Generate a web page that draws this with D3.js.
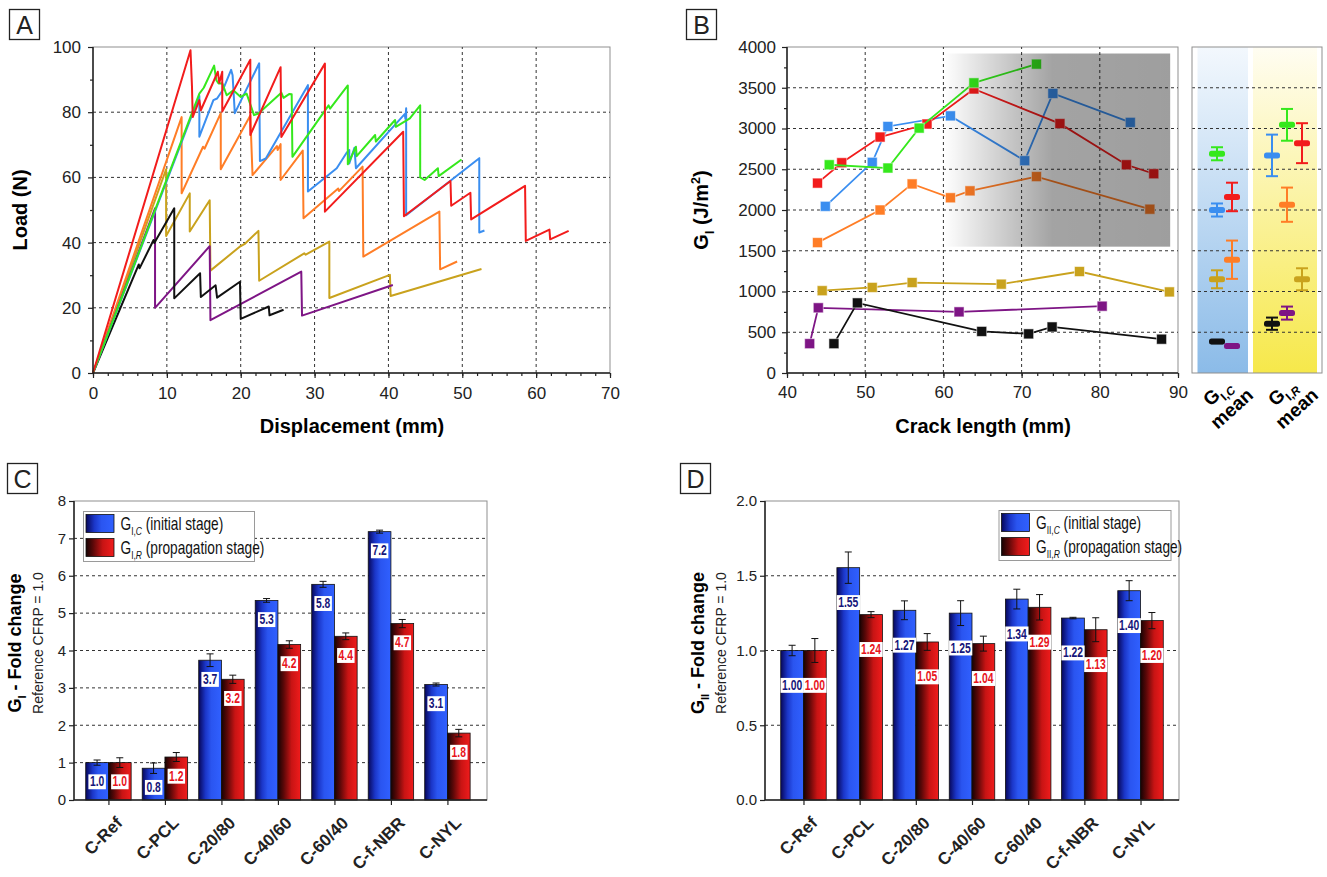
<!DOCTYPE html>
<html>
<head>
<meta charset="utf-8">
<script src="https://cdn.jsdelivr.net/npm/d3@7"></script>
<style>
  body { margin: 0; background: #fff; }
  svg { display: block; }
</style>
</head>
<body>
<svg id="fig" width="1327" height="877"></svg>
<script>
// ---- panel A: load vs displacement, [mm, N] ----
var loadRed = [[0,0],[13.2,99],[13.4,88],[13.5,78.5],[14.4,83.7],[14.6,80.6],[16.9,92.4],[17.1,89],[17.5,92.4],[17.5,80.2],
  [21.3,96.1],[21.3,73],[25.4,93.8],[25.5,72.4],[31.4,94.9],[31.4,49.5],[42,74],[42.1,48.1],[48.4,58.9],[48.5,51.3],
  [51.1,55.3],[51.2,47.1],[58.5,57.4],[58.6,40.5],[61.8,44],[61.9,41],[64.4,43.6]];
var loadGreen = [[0,0],[14.4,85.7],[15,87.5],[16.4,94.3],[16.7,89.8],[17,88.8],[17.5,88.9],[18.1,85.2],[19,86.7],[20,84.7],
  [20.8,85.7],[21.8,79.1],[22.4,79.6],[25.5,86],[25.8,84.4],[26.6,85.6],[26.9,85.5],[27,66.3],[31.9,82.1],[32.1,81.1],
  [34.5,88.2],[34.5,64],[35.6,69.4],[35.7,66.5],[38.2,73],[38.3,71],[40.9,77.6],[41,75.5],[42.9,78.1],[44.3,82.1],
  [44.3,60],[44.9,59.2],[46.7,62.8],[46.8,60.4],[49.9,65.5]];
var loadBlue = [[0,0],[14.4,85],[14.4,72.5],[16.3,83.7],[16.8,84.2],[17.6,86.9],[18.7,93],[18.9,91.3],[19.2,79.7],
  [22.5,95],[22.6,65],[23.4,65.8],[29.1,88.3],[29.1,55.7],[33,62.8],[34.3,67.4],[34.7,68.4],[34.7,64.3],[35.4,69.1],
  [35.6,62.8],[40.6,75.4],[42.2,79.4],[42.3,78],[42.4,81.2],[42.4,48.4],[52.3,65.9],[52.3,43.1],[53,43.7]];
var loadOrange = [[0,0],[12,78.5],[12,55.1],[14.9,69.4],[15.1,68.8],[17.3,79.7],[17.3,62.5],[21.3,79],[21.6,60.7],
  [24.9,69.6],[25,68.4],[25.4,70.2],[25.4,59.2],[28.4,68.2],[28.5,47.5],[33.2,56.6],[33.3,55.8],[36.5,63.3],[36.6,35.7],
  [46.9,49.5],[47,31.8],[49.3,34.2]];
var loadGold = [[0,0],[9.9,62.5],[9.9,42],[13.1,55.1],[13.1,43.4],[15.8,53],[15.9,31.4],[19.9,38.8],[20.5,39.5],[22.4,43.6],
  [22.5,28.3],[28.6,36.7],[28.8,36.3],[32,40.3],[32,23],[40.2,30.1],[40.3,23.6],[52.6,31.9]];
var loadPurple = [[0,0],[8.4,50.5],[8.4,20],[15.8,38.9],[15.9,16.2],[28.2,31.1],[28.3,17.6],[40.6,27]];
var loadBlack = [[0,0],[6.2,33.3],[6.3,32.1],[8.2,40.8],[8.3,39.9],[11,50.5],[11,22.9],[14.5,30.6],[14.6,23.3],
  [16.6,26.9],[16.8,23.1],[19.9,28],[20,16.6],[23.8,20.4],[23.9,17.7],[25.8,19.4]];

// ---- panel B: G_I vs crack length, [mm, J/m2] ----
var giRed = [[43.9,2330],[47,2580],[51.9,2895],[57.9,3055],[63.9,3485],[74.9,3060],[83.4,2555],[86.9,2445]];
var giGreen = [[45.4,2555],[52.9,2515],[56.9,3005],[63.9,3560],[71.9,3790]];
var giBlue = [[44.9,2045],[50.9,2585],[52.9,3025],[60.9,3155],[70.4,2605],[74,3430],[83.9,3075]];
var giOrange = [[43.9,1600],[51.9,2000],[56,2320],[60.9,2150],[63.4,2235],[71.9,2410],[86.4,2010]];
var giGold = [[44.5,1010],[50.9,1050],[56,1110],[67.4,1090],[77.4,1245],[88.9,995]];
var giPurple = [[42.9,360],[44,800],[62,750],[80.3,820]];
var giBlack = [[46,360],[49,860],[64.9,510],[70.9,480],[73.9,565],[87.9,415]];
var shadeBox = [60, 89, 1550, 3920];   // crack length from/to, G_I from/to

// side panel of means: [slot, mean, error]
var gicMeans = { green: [5,2690,80], blue: [5,2000,80], red: [8,2160,175], gold: [5,1150,110],
                 orange: [8,1390,235], black: [5,385,20], purple: [8,330,20] };
var girMeans = { blue: [16,2670,255], green: [19,3045,195], red: [22,2820,245], orange: [19,2065,210],
                 gold: [22,1150,135], black: [16,605,75], purple: [19,735,80] };

// ---- panels C and D: fold change ----
var samples = ["C-Ref", "C-PCL", "C-20/80", "C-40/60", "C-60/40", "C-f-NBR", "C-NYL"];
var g1cFold = [1.0, 0.85, 3.74, 5.34, 5.77, 7.18, 3.09];
var g1cErr  = [0.07, 0.14, 0.17, 0.05, 0.08, 0.04, 0.04];
var g1cText = ["1.0", "0.8", "3.7", "5.3", "5.8", "7.2", "3.1"];
var g1rFold = [1.0, 1.15, 3.23, 4.16, 4.38, 4.72, 1.79];
var g1rErr  = [0.13, 0.12, 0.11, 0.10, 0.09, 0.11, 0.10];
var g1rText = ["1.0", "1.2", "3.2", "4.2", "4.4", "4.7", "1.8"];
var g2cFold = [1.0, 1.554, 1.269, 1.25, 1.344, 1.217, 1.40];
var g2cErr  = [0.035, 0.105, 0.063, 0.083, 0.066, 0.005, 0.067];
var g2cText = ["1.00", "1.55", "1.27", "1.25", "1.34", "1.22", "1.40"];
var g2rFold = [1.0, 1.24, 1.057, 1.046, 1.289, 1.139, 1.20];
var g2rErr  = [0.08, 0.02, 0.056, 0.05, 0.085, 0.08, 0.054];
var g2rText = ["1.00", "1.24", "1.05", "1.04", "1.29", "1.13", "1.20"];

var col = { red: "#f21c1c", green: "#35e81c", blue: "#3a8ef0", orange: "#ff7d26",
            gold: "#c9a21d", purple: "#7e1585", black: "#111111" };

var FONT = '"Liberation Sans", Arial, sans-serif';

var svg = d3.select("#fig").attr("font-family", FONT);
var defs = svg.append("defs");

function gradient(id, vertical, stops) {
  var g = defs.append("linearGradient").attr("id", id)
      .attr("x1", 0).attr("y1", 0).attr("x2", vertical ? 0 : 1).attr("y2", vertical ? 1 : 0);
  stops.forEach(function(s) {
    g.append("stop").attr("offset", s[0]).attr("stop-color", s[1])
        .attr("stop-opacity", s[2] === undefined ? 1 : s[2]);
  });
}
gradient("barBlue", false, [[0, "#07075a"], [0.3, "#1b36c8"], [0.55, "#2a55f0"], [1, "#3060ff"]]);
gradient("barRed", false, [[0, "#160303"], [0.25, "#5a0808"], [0.6, "#c81414"], [1, "#f01c1c"]]);
gradient("shade", false, [[0, "#000", 0], [0.48, "#000", 0.36], [1, "#000", 0.38]]);
gradient("colBlue", true, [[0, "#f3f8fd"], [1, "#8bbbe8"]]);
gradient("colYellow", true, [[0, "#fffdf2"], [1, "#f6e84a"]]);

function panelLabel(x, y, t) {
  svg.append("rect").attr("x", x).attr("y", y).attr("width", 30).attr("height", 30)
      .attr("fill", "#fff").attr("stroke", "#222").attr("stroke-width", 1.3);
  svg.append("text").attr("x", x + 15).attr("y", y + 24).attr("text-anchor", "middle")
      .attr("font-size", 25).attr("fill", "#222").text(t);
}

function plotFrame(x, y) {
  var xr = x.range(), yr = y.range();
  svg.append("rect").attr("x", xr[0]).attr("y", yr[1])
      .attr("width", xr[1] - xr[0]).attr("height", yr[0] - yr[1])
      .attr("fill", "none").attr("stroke", "#8f8f8f").attr("stroke-width", 1);
}

function grid(x, y, xs, ys) {
  var g = svg.append("g").attr("stroke", "#333").attr("stroke-width", 1).attr("stroke-dasharray", "3,3");
  xs.forEach(function(v) {
    g.append("line").attr("x1", x(v)).attr("x2", x(v)).attr("y1", y.range()[0]).attr("y2", y.range()[1]);
  });
  ys.forEach(function(v) {
    g.append("line").attr("x1", x.range()[0]).attr("x2", x.range()[1]).attr("y1", y(v)).attr("y2", y(v));
  });
}

function styleAxis(g, fs) {
  g.attr("font-family", FONT).attr("font-size", fs);
  g.select(".domain").remove();
  g.selectAll("line").attr("stroke", "#222").attr("stroke-width", 1.2);
  g.selectAll("text").attr("fill", "#222");
}

function axes(x, y, o) {
  var x0 = x.range()[0], y0 = y.range()[0];
  if (o.xMinor) svg.append("g").attr("transform", "translate(0," + y0 + ")")
      .call(d3.axisBottom(x).tickValues(o.xMinor).tickSize(3).tickFormat(""))
      .call(styleAxis, o.fs);
  if (o.xMajor) svg.append("g").attr("transform", "translate(0," + y0 + ")")
      .call(d3.axisBottom(x).tickValues(o.xMajor).tickSize(5).tickPadding(o.xPad).tickFormat(o.xFmt || d3.format("d")))
      .call(styleAxis, o.fs);
  if (o.yMinor) svg.append("g").attr("transform", "translate(" + x0 + ",0)")
      .call(d3.axisLeft(y).tickValues(o.yMinor).tickSize(3).tickFormat(""))
      .call(styleAxis, o.fs);
  svg.append("g").attr("transform", "translate(" + x0 + ",0)")
      .call(d3.axisLeft(y).tickValues(o.yMajor).tickSize(5).tickPadding(o.yPad).tickFormat(o.yFmt || d3.format("d")))
      .call(styleAxis, o.fs);
  svg.append("line").attr("x1", x0).attr("x2", x.range()[1]).attr("y1", y0).attr("y2", y0)
      .attr("stroke", "#222").attr("stroke-width", 1.5);
  svg.append("line").attr("x1", x0).attr("x2", x0).attr("y1", y0).attr("y2", y.range()[1])
      .attr("stroke", "#222").attr("stroke-width", 1.5);
}

// text with sub/superscript parts: [[text, "sub"|"sup"|null, italic]]
function richText(sel, parts, fs) {
  var shift = 0;
  parts.forEach(function(p) {
    var t = sel.append("tspan").text(p[0]);
    var target = p[1] === "sub" ? 0.3 * fs : p[1] === "sup" ? -0.4 * fs : 0;
    if (target !== shift) { t.attr("dy", target - shift); shift = target; }
    if (p[1]) t.attr("font-size", fs * 0.62);
    if (p[2]) t.attr("font-style", "italic");
  });
  return sel;
}

// ---------------- Panel A ----------------
panelLabel(9.5, 9.5, "A");
var xA = d3.scaleLinear().domain([0, 70]).range([93, 610]);
var yA = d3.scaleLinear().domain([0, 100]).range([373, 47]);
plotFrame(xA, yA);
grid(xA, yA, d3.range(10, 70, 10), d3.range(20, 100, 20));
var lineA = d3.line().x(function(d) { return xA(d[0]); }).y(function(d) { return yA(d[1]); });
[[loadGold, col.gold], [loadOrange, col.orange], [loadPurple, col.purple], [loadBlack, col.black],
 [loadBlue, col.blue], [loadGreen, col.green], [loadRed, col.red]].forEach(function(s) {
  svg.append("path").datum(s[0]).attr("d", lineA).attr("fill", "none")
      .attr("stroke", s[1]).attr("stroke-width", 2).attr("stroke-linejoin", "round");
});
axes(xA, yA, { fs: 17, xMajor: d3.range(0, 71, 10), xMinor: d3.range(0, 71, 2), xPad: 9,
               yMajor: d3.range(0, 101, 20), yMinor: d3.range(10, 100, 20), yPad: 7 });
svg.append("text").attr("x", 352).attr("y", 433).attr("text-anchor", "middle")
    .attr("font-size", 20).attr("font-weight", "bold").text("Displacement (mm)");
svg.append("text").attr("transform", "translate(27,210) rotate(-90)").attr("text-anchor", "middle")
    .attr("font-size", 20).attr("font-weight", "bold").text("Load (N)");

// ---------------- Panel B ----------------
panelLabel(686.5, 9.5, "B");
var xB = d3.scaleLinear().domain([40, 90]).range([787, 1178]);
var yB = d3.scaleLinear().domain([0, 4000]).range([373, 47]);
plotFrame(xB, yB);
grid(xB, yB, d3.range(50, 90, 10), d3.range(500, 4000, 500));
var lineB = d3.line().x(function(d) { return xB(d[0]); }).y(function(d) { return yB(d[1]); });
[[giGold, col.gold], [giPurple, col.purple], [giBlack, col.black], [giOrange, col.orange],
 [giBlue, col.blue], [giRed, col.red], [giGreen, col.green]].forEach(function(s) {
  svg.append("path").datum(s[0]).attr("d", lineB).attr("fill", "none")
      .attr("stroke", s[1]).attr("stroke-width", 1.8);
  svg.append("g").selectAll("rect").data(s[0]).enter().append("rect")
      .attr("x", function(d) { return xB(d[0]) - 5; })
      .attr("y", function(d) { return yB(d[1]) - 5; })
      .attr("width", 10).attr("height", 10)
      .attr("fill", s[1]).attr("stroke", "#fff").attr("stroke-opacity", 0.55).attr("stroke-width", 1);
});
svg.append("rect")
    .attr("x", xB(shadeBox[0])).attr("y", yB(shadeBox[3]))
    .attr("width", xB(shadeBox[1]) - xB(shadeBox[0])).attr("height", yB(shadeBox[2]) - yB(shadeBox[3]))
    .attr("fill", "url(#shade)");
axes(xB, yB, { fs: 17, xMajor: d3.range(40, 91, 10), xMinor: d3.range(40, 91, 2), xPad: 8,
               yMajor: d3.range(0, 4001, 500), yMinor: d3.range(250, 4000, 500), yPad: 6 });
svg.append("text").attr("x", 983).attr("y", 433).attr("text-anchor", "middle")
    .attr("font-size", 20).attr("font-weight", "bold").text("Crack length (mm)");
richText(svg.append("text").attr("transform", "translate(708,210) rotate(-90)").attr("text-anchor", "middle")
    .attr("font-size", 20).attr("font-weight", "bold"),
    [["G"], ["I", "sub"], [" (J/m"], ["2", "sup"], [")"]], 20);

// side panel of means
var xS = d3.scaleLinear().domain([0, 26]).range([1192, 1322]);
svg.append("rect").attr("x", xS(1.1)).attr("y", yB(4000)).attr("width", xS(11.2) - xS(1.1))
    .attr("height", yB(0) - yB(4000)).attr("fill", "url(#colBlue)");
svg.append("rect").attr("x", xS(12.2)).attr("y", yB(4000)).attr("width", xS(25) - xS(12.2))
    .attr("height", yB(0) - yB(4000)).attr("fill", "url(#colYellow)");
grid(xS, yB, [], d3.range(500, 4000, 500));
plotFrame(xS, yB);
[gicMeans, girMeans].forEach(function(means) {
  Object.keys(means).forEach(function(k) {
    var m = means[k], cx = xS(m[0]), g = svg.append("g").attr("stroke", col[k]).attr("stroke-width", 2);
    g.append("line").attr("x1", cx).attr("x2", cx).attr("y1", yB(m[1] - m[2])).attr("y2", yB(m[1] + m[2]));
    g.append("line").attr("x1", cx - 6).attr("x2", cx + 6).attr("y1", yB(m[1] - m[2])).attr("y2", yB(m[1] - m[2]));
    g.append("line").attr("x1", cx - 6).attr("x2", cx + 6).attr("y1", yB(m[1] + m[2])).attr("y2", yB(m[1] + m[2]));
    g.append("rect").attr("x", cx - 8).attr("y", yB(m[1]) - 3).attr("width", 16).attr("height", 6)
        .attr("rx", 2.5).attr("fill", col[k]).attr("stroke", "none");
  });
});
[["C", 1224], ["R", 1289]].forEach(function(l) {
  var g = svg.append("g").attr("transform", "translate(" + l[1] + ",400) rotate(-42)")
      .attr("font-size", 19).attr("font-weight", "bold").attr("text-anchor", "middle");
  richText(g.append("text").attr("y", -4), [["G"], ["I,", "sub"], [l[0], "sub", true]], 19);
  g.append("text").attr("y", 18).text("mean");
});

// ---------------- Panels C, D ----------------
function foldPanel(o) {
  panelLabel(o.lx, 463.5, o.letter);
  var x = d3.scaleBand().domain(samples).range(o.xr).paddingInner(o.pi).paddingOuter(o.po).align(o.align);
  var y = d3.scaleLinear().domain([0, o.max]).range([800, 501]);
  var bw = x.bandwidth() / 2;
  plotFrame(d3.scaleLinear().range(o.xr), y);
  grid(x, y, [], o.grid);

  var series = [[o.c, o.cErr, o.cText, "url(#barBlue)", "#16167a", 0],
                [o.r, o.rErr, o.rText, "url(#barRed)", "#e8141c", bw]];
  series.forEach(function(s) {
    svg.append("g").selectAll("rect").data(samples).enter().append("rect")
        .attr("x", function(d) { return x(d) + s[5]; })
        .attr("y", function(d, i) { return y(s[0][i]); })
        .attr("width", bw)
        .attr("height", function(d, i) { return y(0) - y(s[0][i]); })
        .attr("fill", s[3]).attr("stroke", "#111").attr("stroke-width", 0.8);
  });
  series.forEach(function(s) {
    samples.forEach(function(d, i) {
      var cx = x(d) + s[5] + bw / 2, v = s[0][i], e = s[1][i];
      var eb = svg.append("g").attr("stroke", "#111").attr("stroke-width", 1);
      eb.append("line").attr("x1", cx).attr("x2", cx).attr("y1", y(v - e)).attr("y2", y(v + e));
      eb.append("line").attr("x1", cx - 3.5).attr("x2", cx + 3.5).attr("y1", y(v - e)).attr("y2", y(v - e));
      eb.append("line").attr("x1", cx - 3.5).attr("x2", cx + 3.5).attr("y1", y(v + e)).attr("y2", y(v + e));

      // value tag, squeezed horizontally like a narrow face
      var lg = svg.append("g").attr("transform", "translate(" + cx + "," + y(v - o.lab) + ") scale(0.74,1)");
      var t = lg.append("text").attr("dy", "0.36em")
          .attr("text-anchor", "middle").attr("font-weight", "bold")
          .attr("font-size", 14).attr("fill", s[4]).text(s[2][i]);
      var bb = t.node().getBBox();
      lg.insert("rect", "text").attr("x", bb.x - 2).attr("y", bb.y + 0.5).attr("width", bb.width + 4)
          .attr("height", bb.height - 1).attr("fill", "#fff");
    });
  });

  svg.append("g").attr("transform", "translate(0,800)")
      .call(d3.axisBottom(d3.scalePoint().domain(samples).range([x(samples[0]) + bw, x(samples[6]) + bw]))
      .tickSize(5).tickFormat(""))
      .call(styleAxis, 15);
  samples.forEach(function(d) {
    svg.append("text").attr("transform", "translate(" + (x(d) + bw + 15) + ",824) rotate(-45)")
        .attr("text-anchor", "end").attr("font-size", 17).attr("font-weight", "bold")
        .attr("fill", "#222").text(d);
  });
  svg.append("g").attr("transform", "translate(" + o.xr[0] + ",0)")
      .call(d3.axisLeft(y).tickValues(o.ticks).tickSize(5).tickPadding(3).tickFormat(o.fmt))
      .call(styleAxis, 15);
  svg.append("line").attr("x1", o.xr[0]).attr("x2", o.xr[1]).attr("y1", 800).attr("y2", 800)
      .attr("stroke", "#222").attr("stroke-width", 1.5);
  svg.append("line").attr("x1", o.xr[0]).attr("x2", o.xr[0]).attr("y1", 800).attr("y2", 501)
      .attr("stroke", "#222").attr("stroke-width", 1.5);

  // titles
  richText(svg.append("text").attr("transform", "translate(" + o.tx + ",643) rotate(-90)")
      .attr("text-anchor", "middle").attr("font-size", 18).attr("font-weight", "bold"),
      [["G"], [o.sub, "sub"], [" - Fold change"]], 18);
  svg.append("text").attr("transform", "translate(" + (o.tx + 22) + ",643) rotate(-90)")
      .attr("text-anchor", "middle").attr("font-size", 14).attr("fill", "#222").text("Reference CFRP = 1.0");

  // legend
  var lg = svg.append("g").attr("transform", "translate(" + o.leg[0] + "," + o.leg[1] + ")");
  lg.append("rect").attr("width", o.leg[2]).attr("height", 50).attr("fill", "#fff")
      .attr("stroke", "#9a9a9a").attr("stroke-width", 1);
  [["url(#barBlue)", "(initial stage)", "C", 3], ["url(#barRed)", "(propagation stage)", "R", 27]].forEach(function(r) {
    lg.append("rect").attr("x", 2.5).attr("y", r[3]).attr("width", 28).attr("height", 18)
        .attr("fill", r[0]).attr("stroke", "#111").attr("stroke-width", 0.8);
    richText(lg.append("text").attr("transform", "translate(37," + (r[3] + 15) + ") scale(0.76,1)")
        .attr("font-size", 18).attr("fill", "#111"),
        [["G"], [o.sub + ",", "sub"], [r[2], "sub", true], [" " + r[1]]], 18);
  });
}

foldPanel({ letter: "C", lx: 7.5, xr: [74, 487], pi: 0.196, po: 0.253, align: 0.41, max: 8,
            ticks: d3.range(0, 9), fmt: d3.format("d"), grid: d3.range(1, 8), lab: 0.5,
            c: g1cFold, cErr: g1cErr, cText: g1cText, r: g1rFold, rErr: g1rErr, rText: g1rText,
            sub: "I", tx: 21, leg: [83.5, 511.5, 171] });
foldPanel({ letter: "D", lx: 680.5, xr: [765, 1179], pi: 0.19, po: 0.28, align: 0.5, max: 2,
            ticks: d3.range(0, 2.01, 0.5), fmt: d3.format(".1f"), grid: [0.5, 1, 1.5], lab: 0.23,
            c: g2cFold, cErr: g2cErr, cText: g2cText, r: g2rFold, rErr: g2rErr, rText: g2rText,
            sub: "II", tx: 704, leg: [999, 510.5, 172] });
</script>
</body>
</html>
